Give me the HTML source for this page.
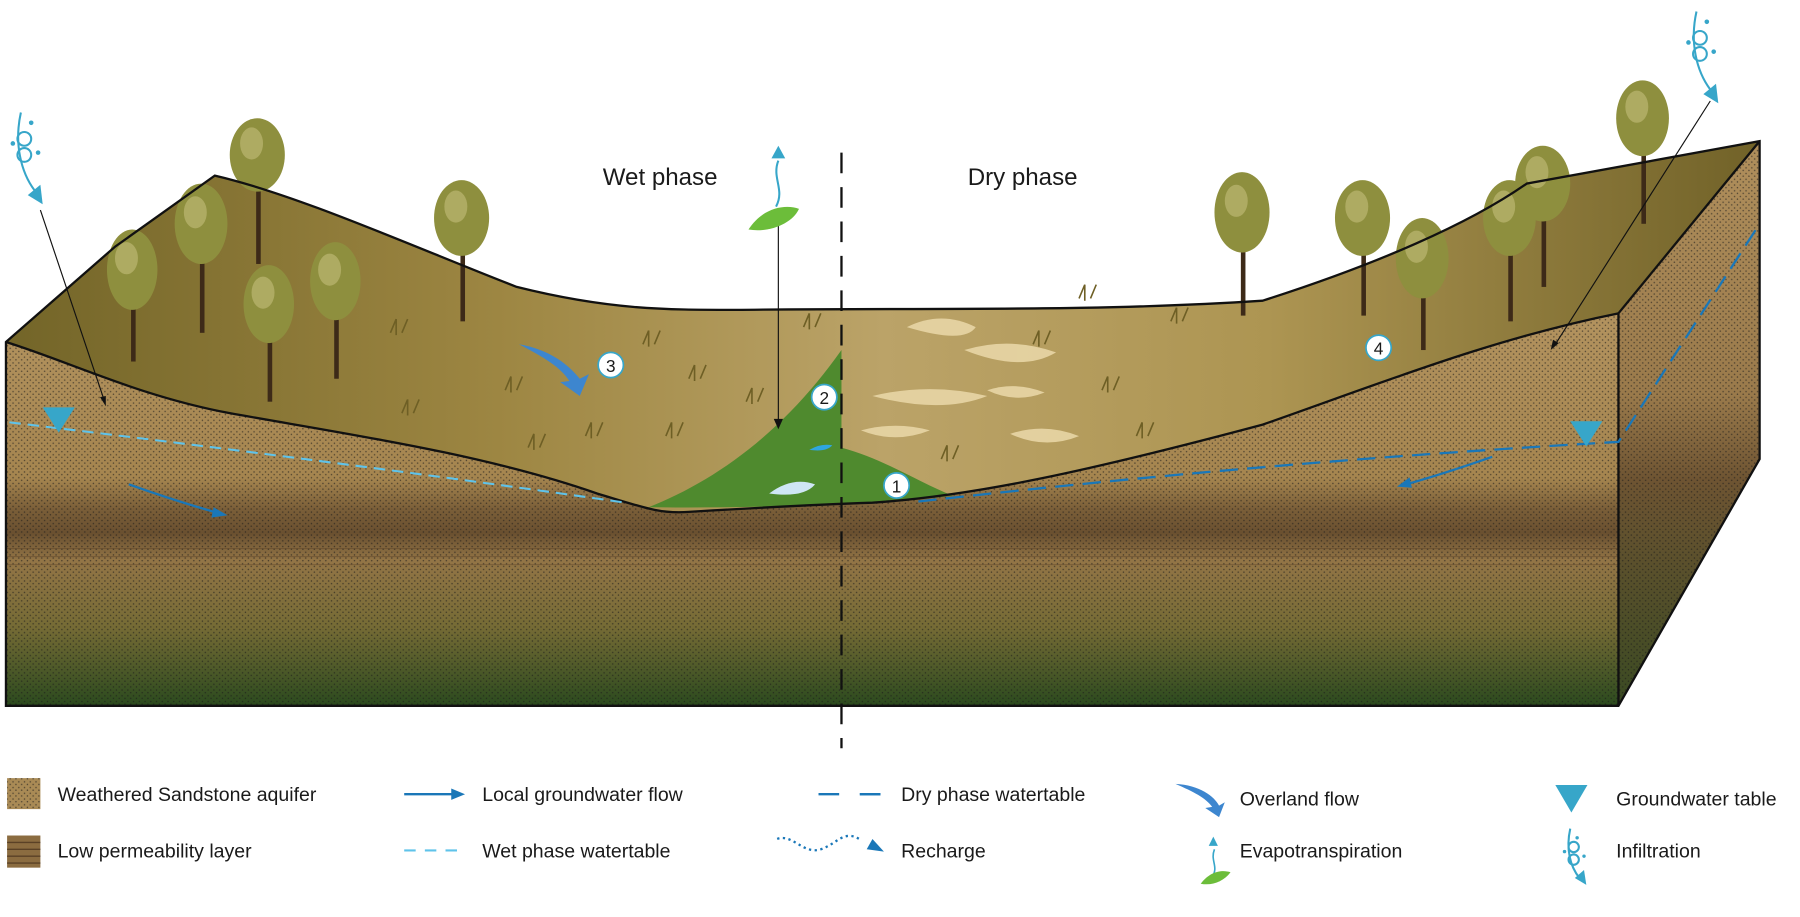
<!DOCTYPE html>
<html><head><meta charset="utf-8"><style>
html,body{margin:0;padding:0;background:#fff;}
svg{display:block;}
text{font-family:"Liberation Sans",Arial,sans-serif;fill:#1a1a1a;}
</style></head><body>
<svg width="1800" height="917" viewBox="0 0 1568 799" xmlns="http://www.w3.org/2000/svg">
<defs>
<linearGradient id="front" x1="0" y1="0" x2="0" y2="1">
<stop offset="0" stop-color="#b3935f"/>
<stop offset="0.42" stop-color="#a5854f"/>
<stop offset="0.5" stop-color="#7a5e38"/>
<stop offset="0.56" stop-color="#6a5030"/>
<stop offset="0.63" stop-color="#937546"/>
<stop offset="0.8" stop-color="#756b35"/>
<stop offset="1" stop-color="#2b4a1e"/>
</linearGradient>
<linearGradient id="side" x1="0" y1="0" x2="0" y2="1">
<stop offset="0" stop-color="#b08f5c"/>
<stop offset="0.45" stop-color="#9a7a4b"/>
<stop offset="0.6" stop-color="#6e5432"/>
<stop offset="1" stop-color="#3a4a22"/>
</linearGradient>
<linearGradient id="land" x1="0" y1="0" x2="1" y2="0">
<stop offset="0" stop-color="#736528"/>
<stop offset="0.28" stop-color="#9d8642"/>
<stop offset="0.5" stop-color="#bba368"/>
<stop offset="0.72" stop-color="#ad9552"/>
<stop offset="1" stop-color="#716228"/>
</linearGradient>
<pattern id="dots" width="5" height="5" patternUnits="userSpaceOnUse">
<circle cx="1.2" cy="1.2" r="0.65" fill="#1a1a1a"/><circle cx="3.7" cy="3.5" r="0.65" fill="#1a1a1a"/>
</pattern>
</defs>

<path d="M5,298 C60,315 120,345 200,360 C300,378 420,395 520,430 C560,442 575,448 600,446 C650,443 700,440 760,438 C850,432 950,410 1100,370 C1200,335 1300,295 1410,273 L1410,615 L5,615 Z" fill="url(#front)"/>
<path d="M5,298 C60,315 120,345 200,360 C300,378 420,395 520,430 C560,442 575,448 600,446 C650,443 700,440 760,438 C850,432 950,410 1100,370 C1200,335 1300,295 1410,273 L1410,615 L5,615 Z" fill="url(#dots)" opacity="0.6"/>
<g stroke="#5a4126" stroke-width="0.8" opacity="0.5"><line x1="5" y1="478" x2="1410" y2="478"/><line x1="5" y1="485" x2="1410" y2="485"/><line x1="5" y1="492" x2="1410" y2="492"/></g>
<path d="M1410,273 L1533,123 L1533,400 L1410,615 Z" fill="url(#side)"/>
<path d="M1410,273 L1533,123 L1533,400 L1410,615 Z" fill="url(#dots)" opacity="0.6"/>
<path d="M5,298 L100,215 L187,153 C260,170 360,215 450,250 C530,270 580,270 640,270 C800,268 950,272 1100,262 C1200,230 1280,195 1330,160 L1533,123 L1410,273 C1300,295 1200,335 1100,370 C950,410 850,432 760,438 C700,440 650,443 600,446 C575,448 560,442 520,430 C420,395 300,378 200,360 C120,345 60,315 5,298 Z" fill="url(#land)"/>
<g fill="#e8d6a6" opacity="0.9">
<path d="M790,285 q30,-15 60,0 q-10,15 -60,0z"/><path d="M840,305 q40,-12 80,2 q-30,18 -80,-2z"/>
<path d="M760,345 q50,-12 100,0 q-40,16 -100,0z"/><path d="M880,378 q30,-10 60,2 q-30,12 -60,-2z"/>
<path d="M750,375 q30,-8 60,0 q-30,12 -60,0z"/><path d="M860,340 q25,-8 50,2 q-25,10 -50,-2z"/>
</g>
<path d="M565,442 C620,420 680,380 733,305 L733,390 C770,400 800,420 830,432 C760,440 650,443 565,442 Z" fill="#4f8a2e"/>
<path d="M670,430 q20,-15 40,-8 q-10,12 -40,8z" fill="#cfe6f5"/>
<path d="M705,392 q10,-6 20,-4 q-5,6 -20,4z" fill="#2fa6e0"/>
<g stroke="#6e5f25" stroke-width="1.4" fill="none">
<path d="M340,290 l5,-12 M345,292 l0,-14 M350,290 l5,-12"/><path d="M440,340 l5,-12 M445,342 l0,-14 M450,340 l5,-12"/>
<path d="M510,380 l5,-12 M515,382 l0,-14 M520,380 l5,-12"/><path d="M600,330 l5,-12 M605,332 l0,-14 M610,330 l5,-12"/>
<path d="M560,300 l5,-12 M565,302 l0,-14 M570,300 l5,-12"/><path d="M350,360 l5,-12 M355,362 l0,-14 M360,360 l5,-12"/>
<path d="M900,300 l5,-12 M905,302 l0,-14 M910,300 l5,-12"/><path d="M960,340 l5,-12 M965,342 l0,-14 M970,340 l5,-12"/>
<path d="M820,400 l5,-12 M825,402 l0,-14 M830,400 l5,-12"/><path d="M1020,280 l5,-12 M1025,282 l0,-14 M1030,280 l5,-12"/>
<path d="M990,380 l5,-12 M995,382 l0,-14 M1000,380 l5,-12"/><path d="M700,285 l5,-12 M705,287 l0,-14 M710,285 l5,-12"/>
<path d="M460,390 l5,-12 M465,392 l0,-14 M470,390 l5,-12"/><path d="M580,380 l5,-12 M585,382 l0,-14 M590,380 l5,-12"/>
<path d="M650,350 l5,-12 M655,352 l0,-14 M660,350 l5,-12"/><path d="M940,260 l5,-12 M945,262 l0,-14 M950,260 l5,-12"/>
</g>
<g>
<g fill="#3d2a18"><rect x="114" y="240" width="4" height="75"/><rect x="174" y="200" width="4" height="90"/><rect x="223" y="140" width="4" height="90"/><rect x="233" y="270" width="4" height="80"/><rect x="291" y="250" width="4" height="80"/><rect x="401" y="190" width="4" height="90"/><rect x="1081" y="185" width="4" height="90"/><rect x="1186" y="190" width="4" height="85"/><rect x="1238" y="225" width="4" height="80"/><rect x="1314" y="190" width="4" height="90"/><rect x="1343" y="160" width="4" height="90"/><rect x="1430" y="105" width="4" height="90"/></g>
<g fill="#8e8f3e">
<ellipse cx="115" cy="235" rx="22" ry="35"/><ellipse cx="175" cy="195" rx="23" ry="35"/><ellipse cx="224" cy="135" rx="24" ry="32"/><ellipse cx="234" cy="265" rx="22" ry="34"/><ellipse cx="292" cy="245" rx="22" ry="34"/><ellipse cx="402" cy="190" rx="24" ry="33"/>
<ellipse cx="1082" cy="185" rx="24" ry="35"/><ellipse cx="1187" cy="190" rx="24" ry="33"/><ellipse cx="1239" cy="225" rx="23" ry="35"/><ellipse cx="1315" cy="190" rx="23" ry="33"/><ellipse cx="1344" cy="160" rx="24" ry="33"/><ellipse cx="1431" cy="103" rx="23" ry="33"/>
</g>
<g fill="#b7b26c" opacity="0.8">
<ellipse cx="110" cy="225" rx="10" ry="14"/><ellipse cx="170" cy="185" rx="10" ry="14"/><ellipse cx="219" cy="125" rx="10" ry="14"/><ellipse cx="229" cy="255" rx="10" ry="14"/><ellipse cx="287" cy="235" rx="10" ry="14"/><ellipse cx="397" cy="180" rx="10" ry="14"/><ellipse cx="1077" cy="175" rx="10" ry="14"/><ellipse cx="1182" cy="180" rx="10" ry="14"/><ellipse cx="1234" cy="215" rx="10" ry="14"/><ellipse cx="1310" cy="180" rx="10" ry="14"/><ellipse cx="1339" cy="150" rx="10" ry="14"/><ellipse cx="1426" cy="93" rx="10" ry="14"/>
</g>
</g>
<path d="M5,298 C60,315 120,345 200,360 C300,378 420,395 520,430 C560,442 575,448 600,446 C650,443 700,440 760,438 C850,432 950,410 1100,370 C1200,335 1300,295 1410,273" fill="none" stroke="#111" stroke-width="2"/>
<path d="M5,298 L100,215 L187,153 C260,170 360,215 450,250 C530,270 580,270 640,270 C800,268 950,272 1100,262 C1200,230 1280,195 1330,160 L1533,123 L1533,400 L1410,615 L5,615 Z M1410,273 L1533,123 M1410,273 L1410,615" fill="none" stroke="#111" stroke-width="2"/>
<path d="M8,368 C150,385 350,410 545,438" fill="none" stroke="#5fc3ea" stroke-width="1.8" stroke-dasharray="10,6"/>
<path d="M800,437 C950,420 1150,400 1410,385 L1533,195" fill="none" stroke="#1a77b8" stroke-width="2" stroke-dasharray="16,8"/>
<path d="M112,422 C140,432 165,440 190,447" fill="none" stroke="#1a77b8" stroke-width="2"/><path d="M198,449 l-12,-7 l-2,9z" fill="#1a77b8"/>
<path d="M1300,398 C1280,405 1250,415 1225,422" fill="none" stroke="#1a77b8" stroke-width="2"/><path d="M1217,424 l11,-8 l2,9z" fill="#1a77b8"/>
<path d="M452,300 C480,305 495,318 505,330 L513,326 L505,345 L488,333 L496,332 C488,320 475,312 452,300 Z" fill="#3d86cf"/>
<path d="M37,355 L65,355 L51,377 Z" fill="#37a6c9"/>
<path d="M1368,367 L1396,367 L1382,389 Z" fill="#37a6c9"/>
<line x1="733" y1="133" x2="733" y2="652" stroke="#111" stroke-width="2" stroke-dasharray="18,12"/>
<line x1="35" y1="183" x2="90" y2="347" stroke="#111" stroke-width="1"/><path d="M92,354 l-5,-8 l5,-1z" fill="#111"/>
<line x1="1490" y1="88" x2="1355" y2="300" stroke="#111" stroke-width="1"/><path d="M1351,305 l2,-9 l5,3z" fill="#111"/>
<line x1="678" y1="195" x2="678" y2="368" stroke="#111" stroke-width="1"/><path d="M674,365 l4,9 l4,-9z" fill="#111"/>
<g fill="none" stroke="#37a6c9" stroke-width="1.8">
<path d="M18,98 C12,125 18,150 30,166"/><circle cx="21" cy="121" r="6"/><circle cx="21" cy="135" r="6"/>
<path d="M1478,10 C1472,37 1478,62 1490,78"/><circle cx="1481" cy="33" r="6"/><circle cx="1481" cy="47" r="6"/>
<path d="M1368,722 C1364,740 1368,755 1376,765"/><circle cx="1371" cy="738" r="4.5"/><circle cx="1371" cy="749" r="4.5"/>
</g>
<g fill="#37a6c9"><path d="M37,178 L24,170 L35,161 Z"/><path d="M1497,90 L1484,82 L1495,73 Z"/><path d="M1382,771 L1372,765 L1380,758 Z"/>
<circle cx="27" cy="107" r="2"/><circle cx="11" cy="125" r="2"/><circle cx="33" cy="133" r="2"/><circle cx="1487" cy="19" r="2"/><circle cx="1471" cy="37" r="2"/><circle cx="1493" cy="45" r="2"/>
<circle cx="1374" cy="730" r="1.5"/><circle cx="1363" cy="742" r="1.5"/><circle cx="1380" cy="746" r="1.5"/></g>
<path d="M678,140 C672,155 684,165 676,180" fill="none" stroke="#37a6c9" stroke-width="1.8"/><path d="M672,138 l6,-11 l6,11z" fill="#37a6c9"/>
<path d="M652,200 C665,180 685,178 696,182 C690,195 670,203 652,200 Z" fill="#6cbd3a"/>
<path d="M1058,740 C1054,750 1062,755 1056,764" fill="none" stroke="#37a6c9" stroke-width="1.4"/><path d="M1053,737 l4,-8 l4,8z" fill="#37a6c9"/>
<path d="M1046,770 C1055,758 1066,758 1072,760 C1066,768 1056,772 1046,770 Z" fill="#6cbd3a"/>
<g fill="#fff" stroke="#37a6c9" stroke-width="1.5">
<circle cx="532" cy="318" r="11"/><circle cx="718" cy="346" r="11"/><circle cx="781" cy="423" r="11"/><circle cx="1201" cy="303" r="11"/></g>
<g font-size="15" text-anchor="middle"><text x="532" y="324">3</text><text x="718" y="352">2</text><text x="781" y="429">1</text><text x="1201" y="309">4</text></g>
<text x="525" y="161" font-size="21">Wet phase</text>
<text x="843" y="161" font-size="21">Dry phase</text>
<rect x="6" y="678" width="29" height="27" fill="#a98a55"/><rect x="6" y="678" width="29" height="27" fill="url(#dots)" opacity="0.6"/>
<rect x="6" y="728" width="29" height="28" fill="#8b6c40"/>
<g stroke="#5a4126" stroke-width="1.2"><line x1="6" y1="734" x2="35" y2="734"/><line x1="6" y1="740" x2="35" y2="740"/><line x1="6" y1="746" x2="35" y2="746"/><line x1="6" y1="752" x2="35" y2="752"/></g>
<g font-size="17">
<text x="50" y="698">Weathered Sandstone aquifer</text>
<text x="50" y="747">Low permeability layer</text>
<text x="420" y="698">Local groundwater flow</text>
<text x="420" y="747">Wet phase watertable</text>
<text x="785" y="698">Dry phase watertable</text>
<text x="785" y="747">Recharge</text>
<text x="1080" y="702">Overland flow</text>
<text x="1080" y="747">Evapotranspiration</text>
<text x="1408" y="702">Groundwater table</text>
<text x="1408" y="747">Infiltration</text>
</g>
<line x1="352" y1="692" x2="395" y2="692" stroke="#1a77b8" stroke-width="2"/><path d="M405,692 l-12,-5 l0,10z" fill="#1a77b8"/>
<line x1="352" y1="741" x2="405" y2="741" stroke="#5fc3ea" stroke-width="1.8" stroke-dasharray="10,8"/>
<line x1="713" y1="692" x2="767" y2="692" stroke="#1a77b8" stroke-width="2" stroke-dasharray="18,18"/>
<line x1="749" y1="692" x2="767" y2="692" stroke="#1a77b8" stroke-width="2"/>
<path d="M677,731 C690,726 700,745 715,740 C730,735 735,722 750,732" fill="none" stroke="#1a77b8" stroke-width="2" stroke-dasharray="2,3"/><path d="M770,742 l-15,-2 l5,-9z" fill="#1a77b8"/>
<path d="M1024,683 C1045,684 1058,694 1062,702 L1067,699 L1062,712 L1050,704 L1056,703 C1050,695 1040,690 1024,683 Z" fill="#3d86cf"/>
<path d="M1355,684 L1383,684 L1369,708 Z" fill="#37a6c9"/>
</svg>
</body></html>
